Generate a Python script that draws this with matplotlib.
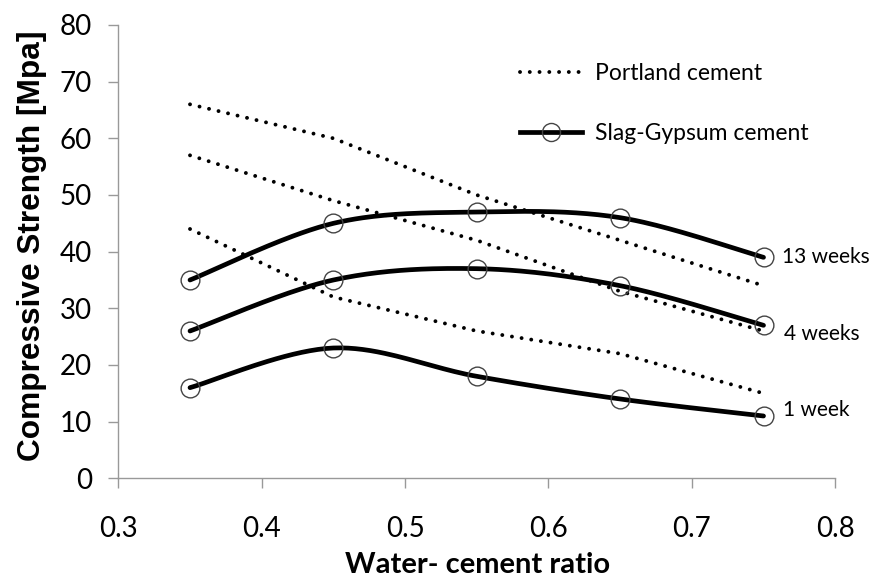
import numpy as np
import matplotlib
matplotlib.use("Agg")
import matplotlib.pyplot as plt
from matplotlib.lines import Line2D

# ---- data ----
wc_ratio = [0.35, 0.45, 0.55, 0.65, 0.75]
portland_13w = [66, 60, 50, 42, 34]
portland_4w = [57, 49, 42, 33, 26]
portland_1w = [44, 32, 26, 22, 15]
slag_13w = [35, 45, 47, 46, 39]
slag_4w = [26, 35, 37, 34, 27]
slag_1w = [16, 23, 18, 14, 11]
curve_labels = ["13 weeks", "4 weeks", "1 week"]
x_ticks = [0.3, 0.4, 0.5, 0.6, 0.7, 0.8]
y_ticks = [0, 10, 20, 30, 40, 50, 60, 70, 80]


def smooth(xs, ys, n=40):
    """Excel-like smoothed line (Catmull-Rom Bezier) through the points."""
    xs = np.asarray(xs, float)
    ys = np.asarray(ys, float)
    px = np.concatenate([[xs[0]], xs, [xs[-1]]])
    py = np.concatenate([[ys[0]], ys, [ys[-1]]])
    ox, oy = [], []
    t = np.linspace(0, 1, n)
    for i in range(1, len(px) - 2):
        p0 = np.array([px[i], py[i]])
        p3 = np.array([px[i + 1], py[i + 1]])
        p1 = p0 + (np.array([px[i + 1], py[i + 1]]) - np.array([px[i - 1], py[i - 1]])) / 6
        p2 = p3 - (np.array([px[i + 2], py[i + 2]]) - np.array([px[i], py[i]])) / 6
        b = ((1 - t) ** 3)[:, None] * p0 + (3 * (1 - t) ** 2 * t)[:, None] * p1 \
            + (3 * (1 - t) * t ** 2)[:, None] * p2 + (t ** 3)[:, None] * p3
        ox.extend(b[:, 0]); oy.extend(b[:, 1])
    return np.array(ox), np.array(oy)


fig = plt.figure(figsize=(8.7, 5.8), dpi=100)
ax = fig.add_axes([0.136, 0.1753, 0.824, 0.7816])

dot_style = dict(color="black", linestyle=(0, (0.01, 2.5)), linewidth=2.8,
                 dash_capstyle="round")
for ys in (portland_13w, portland_4w, portland_1w):
    ax.plot(wc_ratio, ys, **dot_style)

solid_lw = 3.4
for ys in (slag_13w, slag_4w, slag_1w):
    sx, sy = smooth(wc_ratio, ys)
    ax.plot(sx, sy, color="black", linewidth=solid_lw, solid_capstyle="round")
    ax.plot(wc_ratio, ys, linestyle="none", marker="o", markersize=13.5,
            markerfacecolor="none", markeredgecolor="#444444", markeredgewidth=1.0)

label_font = ["Lato", "DejaVu Sans"]
label_offsets = [(13, 0), (15, -6), (14, 4)]
for lab, ys, off in zip(curve_labels, (slag_13w, slag_4w, slag_1w), label_offsets):
    ax.annotate(lab, (wc_ratio[-1], ys[-1]), xytext=off, textcoords="offset points",
                va="center", ha="left", fontsize=15, family=label_font)

ax.set_xlim(0.3, 0.8)
ax.set_ylim(0, 80)
ax.set_xticks(x_ticks)
ax.set_yticks(y_ticks)
ax.set_xticklabels([f"{v:g}" for v in x_ticks], fontsize=20, family=label_font)
ax.set_yticklabels([str(v) for v in y_ticks], fontsize=20, family=label_font)
for s in ("top", "right"):
    ax.spines[s].set_visible(False)
for s in ("left", "bottom"):
    ax.spines[s].set_color("#999999")
    ax.spines[s].set_linewidth(1.0)
ax.tick_params(axis="both", direction="out", length=7, color="#999999", width=1.0)
ax.tick_params(axis="x", pad=20)
ax.tick_params(axis="y", pad=12)

ax.set_xlabel("Water- cement ratio", fontsize=21, fontweight="bold", family=label_font,
              va="top")
ax.xaxis.set_label_coords(0.501, -0.163)
ax.set_ylabel("Compressive Strength [Mpa]", fontsize=22.8, fontweight="bold",
              family=["Liberation Sans", "DejaVu Sans"])
ax.yaxis.set_label_coords(-0.0995, 0.513)

handles = [
    Line2D([], [], **dot_style),
    Line2D([], [], color="black", linewidth=solid_lw, marker="o", markersize=13,
           markerfacecolor="none", markeredgecolor="#444444", markeredgewidth=1.0),
]
ax.legend(handles, ["Portland cement", "Slag-Gypsum cement"], loc="upper left",
          bbox_to_anchor=(0.5605, 0.917), frameon=False,
          prop={"family": label_font, "size": 16.5},
          handlelength=2.7, handletextpad=0.55, labelspacing=1.7,
          borderpad=0, borderaxespad=0)

fig.savefig("out.png", dpi=100)
